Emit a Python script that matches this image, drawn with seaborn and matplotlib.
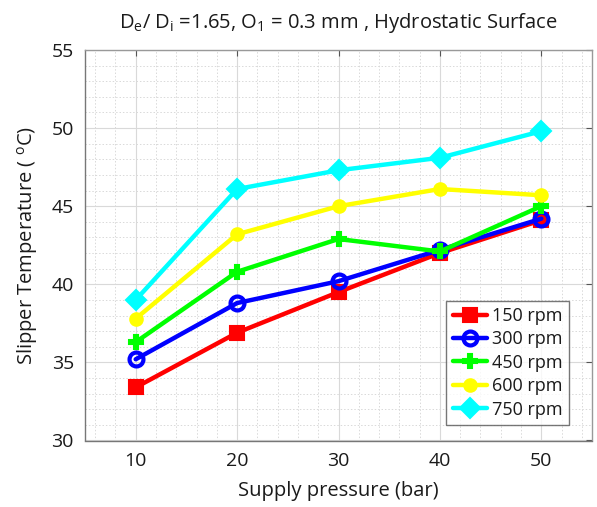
import numpy as np
import pandas as pd
import seaborn as sns
import matplotlib
matplotlib.use("Agg")
import matplotlib.pyplot as plt
from matplotlib.ticker import MultipleLocator

pressure = [10, 20, 30, 40, 50]
rpm_labels = ["150 rpm", "300 rpm", "450 rpm", "600 rpm", "750 rpm"]
t150 = [33.4, 36.9, 39.5, 42.0, 44.1]
t300 = [35.2, 38.8, 40.2, 42.2, 44.2]
t450 = [36.3, 40.8, 42.9, 42.1, 45.0]
t600 = [37.8, 43.2, 45.0, 46.1, 45.7]
t750 = [39.0, 46.1, 47.3, 48.1, 49.8]
series = [t150, t300, t450, t600, t750]

colors = ["#ff0000", "#0000ff", "#00ff00", "#ffff00", "#00ffff"]
markers = ["s", "o", "P", "o", "D"]

rows = []
for lab, vals in zip(rpm_labels, series):
    for p, v in zip(pressure, vals):
        rows.append({"Supply pressure (bar)": p, "T": v, "rpm": lab})
df = pd.DataFrame(rows)

sns.set_style("white")
plt.rcParams["font.family"] = ["Open Sans", "DejaVu Sans"]
plt.rcParams["mathtext.fontset"] = "custom"
plt.rcParams["mathtext.rm"] = "Open Sans"
plt.rcParams["text.color"] = "#1a1a1a"
plt.rcParams["axes.labelcolor"] = "#1a1a1a"
plt.rcParams["xtick.labelcolor"] = "#1a1a1a"
plt.rcParams["ytick.labelcolor"] = "#1a1a1a"

fig = plt.figure(figsize=(5.97, 5.07), dpi=100)
ax = fig.add_axes([85/597, 1-440.5/507, (592-85)/597, (440.5-50)/507])

sns.lineplot(data=df, x="Supply pressure (bar)", y="T", hue="rpm",
             palette=dict(zip(rpm_labels, colors)),
             style="rpm", markers=dict(zip(rpm_labels, markers)),
             dashes=False, linewidth=3.2, markersize=10,
             markeredgewidth=1.5, ax=ax)
for line, c in zip(ax.get_lines(), colors):
    line.set_markeredgecolor(c)
lines = ax.get_lines()
if len(lines) >= 4:
    lines[1].set_markerfacecolor("none")
    lines[1].set_markeredgewidth(3)
    lines[3].set_markersize(9)

ax.set_xlim(5, 55)
ax.set_ylim(30, 55)
ax.xaxis.set_major_locator(MultipleLocator(10))
ax.yaxis.set_major_locator(MultipleLocator(5))
ax.xaxis.set_minor_locator(MultipleLocator(2))
ax.yaxis.set_minor_locator(MultipleLocator(1))
ax.grid(which="major", color="#d9d9d9", linewidth=0.8, linestyle="-")
ax.grid(which="minor", color="#d9d9d9", linewidth=0.7, linestyle=(0, (1.5, 2)))
ax.set_axisbelow(True)
ax.tick_params(which="both", direction="in", top=True, right=True,
               length=4, color="#555555", labelsize=14, pad=8)
ax.tick_params(which="minor", length=0)
for s in ax.spines.values():
    s.set_color("#777777")
    s.set_linewidth(1.0)
for s in ["top", "right"]:
    ax.spines[s].set_color("#999999")

ax.set_xlabel("Supply pressure (bar)", fontsize=14.5, labelpad=8)
ax.set_ylabel("Slipper Temperature ( $^{\\rm o}$C)", fontsize=14.5, labelpad=8)
ax.set_title("D$_{\\rm e}$/ D$_{\\rm i}$ =1.65, O$_{\\rm 1}$ = 0.3 mm , Hydrostatic Surface",
             fontsize=14.5, pad=16)

handles = ax.get_lines()[:5]
leg = ax.legend(handles, rpm_labels, loc="lower right",
                bbox_to_anchor=(0.955, 0.04), fontsize=13,
                frameon=True, fancybox=False, edgecolor="#555555",
                handlelength=1.9, borderpad=0.35, labelspacing=0.3,
                handletextpad=0.3, borderaxespad=0)
leg.get_frame().set_linewidth(1.0)
for h in leg.get_lines():
    h.set_linestyle("-")

fig.savefig("out.png", dpi=100, facecolor="white")
